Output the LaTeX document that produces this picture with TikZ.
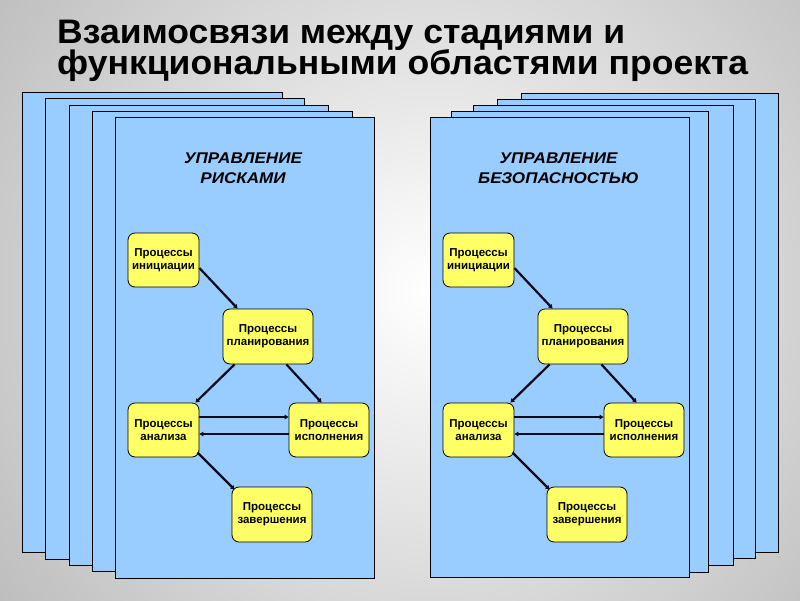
\documentclass[tikz,border=0pt]{standalone}
\usepackage{fontspec}
\setmainfont{Liberation Sans}
\usetikzlibrary{arrows.meta,calc}
\definecolor{sheetblue}{HTML}{99CCFF}
\definecolor{boxyellow}{HTML}{FFFF66}
\definecolor{bggray}{HTML}{939393}
\definecolor{linkcol}{HTML}{0A0A1E}
\tikzset{
  sheet/.style={fill=sheetblue, draw=black, line width=1pt},
  proc/.style={draw=black, fill=boxyellow, rounded corners=7pt, line width=0.8pt,
    align=center, font=\fontsize{11.5}{13}\selectfont\bfseries, inner sep=0pt, text=black},
  link/.style={line width=2.2pt, draw=linkcol, -{Triangle[length=4pt,width=4.5pt]}},
  sheettitle/.style={anchor=base, inner sep=0pt, transform shape, xscale=1.1,
    font=\fontsize{15.5}{18}\selectfont\bfseries\itshape},
  titletext/.style={anchor=base west, inner sep=0pt, transform shape, xscale=1.045,
    font=\fontsize{34}{34}\selectfont\bfseries}
}
\newcommand\mypanel[5]{% #1 prefix, #2 shift, #3 title line 1, #4 title line 2, #5 centre x
  \node[sheettitle] (#1titleA) at (#5,163) {#3};
  \node[sheettitle] (#1titleB) at (#5,183) {#4};
  \begin{scope}[xshift=#2pt]
    \node[proc, minimum width=71pt, minimum height=54pt] (#1init) at (163.5,260) {Процессы\\инициации};
    \node[proc, minimum width=90pt, minimum height=55pt] (#1plan) at (268,336.5) {Процессы\\планирования};
    \node[proc, minimum width=71pt, minimum height=54pt] (#1anal) at (163.5,430) {Процессы\\анализа};
    \node[proc, minimum width=80pt, minimum height=54pt] (#1exec) at (329,430) {Процессы\\исполнения};
    \node[proc, minimum width=80pt, minimum height=55pt] (#1comp) at (272,514.5) {Процессы\\завершения};
  \end{scope}
  \draw[link] ([yshift=-8pt]#1init.east) -- ([xshift=15pt]#1plan.north west);
  \draw[link] ([xshift=12pt]#1plan.south west) -- ([xshift=-4pt]#1anal.north east);
  \draw[link] ([xshift=-27pt]#1plan.south east) -- ([xshift=33pt]#1exec.north west);
  \draw[link] ([yshift=13pt]#1anal.east) -- ([yshift=13pt]#1exec.west);
  \draw[link] ([yshift=-4pt]#1exec.west) -- ([yshift=-4pt]#1anal.east);
  \draw[link] ([xshift=-2pt,yshift=5pt]#1anal.south east) -- ([xshift=3pt,yshift=-3pt]#1comp.north west);
}
\begin{document}
\begin{tikzpicture}[x=1pt,y=-1pt]
\useasboundingbox (0,0) rectangle (800,600);
\fill[bggray] (0,0) rectangle (800,600);
\begin{scope}
  \clip (0,0) rectangle (800,600);
  \shade[inner color=white, outer color=bggray] (430,290) circle (880);
\end{scope}
% title
\node[titletext] (title1) at (57,43) {Взаимосвязи между стадиями и};
\node[titletext] (title2) at (57,74) {функциональными областями проекта};
% left stack
\draw[sheet] (22,92) rectangle (282,552);
\draw[sheet] (45,98) rectangle (304,559);
\draw[sheet] (69,105) rectangle (328,565);
\draw[sheet] (92,111) rectangle (352,571);
\draw[sheet] (115,117) rectangle (374,578);
% right stack
\draw[sheet] (521,93) rectangle (778,552);
\draw[sheet] (497,99) rectangle (755,558);
\draw[sheet] (473,105) rectangle (733,565);
\draw[sheet] (451,111) rectangle (708,572);
\draw[sheet] (430,117) rectangle (689,577);
\mypanel{L}{0}{УПРАВЛЕНИЕ}{РИСКАМИ}{243}
\mypanel{R}{315}{УПРАВЛЕНИЕ}{БЕЗОПАСНОСТЬЮ}{558.5}
\end{tikzpicture}
\end{document}
